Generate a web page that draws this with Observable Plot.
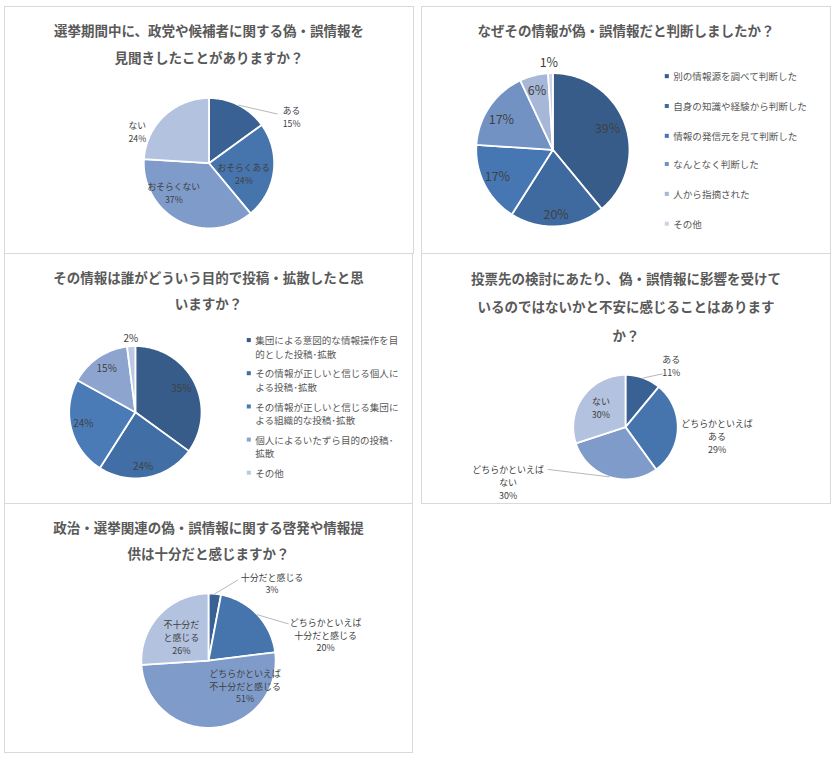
<!DOCTYPE html>
<html>
<head>
<meta charset="utf-8">
<script src="https://cdn.jsdelivr.net/npm/d3@7"></script>
<script src="https://cdn.jsdelivr.net/npm/@observablehq/plot@0.6"></script>
<style>
  html, body { margin: 0; padding: 0; background: #ffffff; }
  body { width: 837px; height: 758px; position: relative; overflow: hidden;
         font-family: "Noto Sans CJK JP", "Noto Sans", sans-serif; }
  .panel { position: absolute; box-sizing: border-box; border: 1px solid #d9d9d9; background: #fff; }
  .panel svg { position: absolute; left: -1px; top: -1px; }
  .title { position: absolute; left: -1px; right: -1px; text-align: center; white-space: nowrap;
           font-size: 13.5px; font-weight: bold; color: #595959; }
</style>
</head>
<body>
<script>
// ---------------- DATA ----------------
const q1Title = ["選挙期間中に、政党や候補者に関する偽・誤情報を", "見聞きしたことがありますか？"];
const q1Categories = ["ある", "おそらくある", "おそらくない", "ない"];
const q1Values = [15, 24, 37, 24];

const q2Title = ["なぜその情報が偽・誤情報だと判断しましたか？"];
const q2Categories = ["別の情報源を調べて判断した", "自身の知識や経験から判断した", "情報の発信元を見て判断した", "なんとなく判断した", "人から指摘された", "その他"];
const q2Values = [39, 20, 17, 17, 6, 1];

const q3Title = ["その情報は誰がどういう目的で投稿・拡散したと思", "いますか？"];
const q3Categories = ["集団による意図的な情報操作を目\n的とした投稿･拡散", "その情報が正しいと信じる個人に\nよる投稿･拡散", "その情報が正しいと信じる集団に\nよる組織的な投稿･拡散", "個人によるいたずら目的の投稿･\n拡散", "その他"];
const q3Values = [35, 24, 24, 15, 2];

const q4Title = ["投票先の検討にあたり、偽・誤情報に影響を受けて", "いるのではないかと不安に感じることはあります", "か？"];
const q4Categories = ["ある", "どちらかといえば\nある", "どちらかといえば\nない", "ない"];
const q4Values = [11, 29, 30, 30];

const q5Title = ["政治・選挙関連の偽・誤情報に関する啓発や情報提", "供は十分だと感じますか？"];
const q5Categories = ["十分だと感じる", "どちらかといえば\n十分だと感じる", "どちらかといえば\n不十分だと感じる", "不十分だ\nと感じる"];
const q5Values = [3, 20, 51, 26];

const colors4 = ["#3a6194", "#4674ad", "#7f9bc9", "#b3c2de"];
const colors5 = ["#375c8a", "#416ea4", "#4a7bb7", "#8da5ce", "#bcc9e3"];
const colors6 = ["#375c8a", "#3e6a9f", "#4677b2", "#7292c4", "#a6b7d7", "#c9d4e9"];

// ---------------- LAYOUT ----------------
const panels = [
  { title: q1Title, cats: q1Categories, vals: q1Values, colors: colors4,
    left: 4, top: 6, w: 410, h: 248, titleTop: 10.5, titleLH: 27,
    cx: 205.5, cy: 157.5, r: 65.5, labelMode: "catpct", fontSize: 8.8, lh: 13.3,
    labelPos: [[288.5, 110.7], [240.5, 167.3], [170.2, 186.7], [133.5, 125.7]],
    leaders: [[0, 274, 108]] },
  { title: q2Title, cats: q2Categories, vals: q2Values, colors: colors6,
    left: 421, top: 6, w: 410, h: 248, titleTop: 10.5, titleLH: 27,
    cx: 132, cy: 144, r: 77, labelMode: "pct", fontSize: 12.5, lh: 14,
    labelPos: [[187, 122.3], [135.3, 209], [76.3, 170.7], [80.3, 113.3], [116, 84.7], [128, 56.7]],
    leaders: [],
    legend: { sx: 246.5, tx: 253, rows: [70, 100, 130, 158.3, 188.3, 218.3], lh: 13.3 } },
  { title: q3Title, cats: q3Categories, vals: q3Values, colors: colors5,
    left: 4, top: 253, w: 409, h: 251, titleTop: 10.5, titleLH: 26.5,
    cx: 131.5, cy: 159.5, r: 66.5, labelMode: "pct", fontSize: 10, lh: 13,
    labelPos: [[177.7, 135.3], [139.3, 213], [79.3, 169.7], [102.7, 115.3], [127, 84.3]],
    leaders: [],
    legend: { sx: 245.5, tx: 252, rows: [87, 120.3, 153.7, 187, 220.3], lh: 13.3 } },
  { title: q4Title, cats: q4Categories, vals: q4Values, colors: colors4,
    left: 421, top: 253, w: 410, h: 251, titleTop: 10.75, titleLH: 28.5,
    cx: 205, cy: 174.5, r: 52.5, labelMode: "catpct", fontSize: 9, lh: 13,
    labelPos: [[251, 112], [297, 183.3], [87, 229.5], [180.3, 154.5]],
    leaders: [[0, 242, 121], [2, 127, 217]] },
  { title: q5Title, cats: q5Categories, vals: q5Values, colors: colors4,
    left: 4, top: 503, w: 409, h: 250, titleTop: 10.5, titleLH: 26.5,
    cx: 205, cy: 158, r: 67.5, labelMode: "catpct", fontSize: 9, lh: 12.7,
    labelPos: [[268.8, 80], [322.7, 131.8], [241.8, 183], [177.7, 134]],
    leaders: [[0, 234.3, 77], [1, 285.3, 121]] }
];

function slices(values, cx, cy, r) {
  const total = d3.sum(values);
  let acc = 0;
  return values.map((v, i) => {
    const a0 = acc / total * 2 * Math.PI;
    acc += v;
    const a1 = acc / total * 2 * Math.PI;
    const n = Math.max(2, Math.ceil((a1 - a0) / (Math.PI / 180)));
    const pts = [{ x: cx, y: cy }];
    for (let k = 0; k <= n; k++) {
      const a = a0 + (a1 - a0) * k / n;
      pts.push({ x: cx + r * Math.sin(a), y: cy - r * Math.cos(a) });
    }
    pts.push({ x: cx, y: cy });
    const mid = (a0 + a1) / 2;
    return { i, pts, mid, edge: { x: cx + r * Math.sin(mid), y: cy - r * Math.cos(mid) } };
  });
}

panels.forEach(p => {
  const div = document.createElement("div");
  div.className = "panel";
  Object.assign(div.style, { left: p.left + "px", top: p.top + "px", width: p.w + "px", height: p.h + "px" });

  const t = document.createElement("div");
  t.className = "title";
  t.style.top = (p.titleTop - 1) + "px";
  t.style.lineHeight = p.titleLH + "px";
  t.innerHTML = p.title.join("<br>");

  const sl = slices(p.vals, p.cx, p.cy, p.r);
  const marks = [];
  sl.forEach(s => {
    marks.push(Plot.line(s.pts, { x: "x", y: "y", fill: p.colors[s.i], stroke: "#ffffff", strokeWidth: 1.8, strokeLinejoin: "round", curve: "linear" }));
  });
  // leader lines
  p.leaders.forEach(([i, x, y]) => {
    marks.push(Plot.line([sl[i].edge, { x, y }], { x: "x", y: "y", stroke: "#a6a6a6", strokeWidth: 0.8 }));
  });
  // data labels
  const labelData = p.vals.map((v, i) => ({
    x: p.labelPos[i][0], y: p.labelPos[i][1],
    text: p.labelMode === "pct" ? v + "%" : p.cats[i] + "\n" + v + "%"
  }));
  marks.push(Plot.text(labelData, { x: "x", y: "y", text: "text", fill: "#404040", fontSize: p.fontSize, lineHeight: p.lh / p.fontSize, textAnchor: "middle" }));

  // legend
  if (p.legend) {
    const L = p.legend;
    const sq = p.cats.map((c, i) => ({ x: L.sx, y: L.rows[i], color: p.colors[i] }));
    marks.push(Plot.dot(sq, { x: "x", y: "y", symbol: "square", r: 2.3, fill: "color", stroke: null }));
    const items = p.cats.map((c, i) => {
      const n = c.split("\n").length;
      return { x: L.tx, y: L.rows[i] + (n - 1) * L.lh / 2, text: c };
    });
    marks.push(Plot.text(items, { x: "x", y: "y", text: "text", fill: "#595959", fontSize: 9.6, lineHeight: L.lh / 9.6, textAnchor: "start" }));
  }

  const svg = Plot.plot({
    width: p.w, height: p.h,
    marginTop: 0, marginRight: 0, marginBottom: 0, marginLeft: 0,
    x: { domain: [0, p.w], range: [0, p.w], axis: null },
    y: { domain: [0, p.h], range: [0, p.h], axis: null },
    color: { type: "identity" },
    style: { fontFamily: "'Noto Sans CJK JP', 'Noto Sans', sans-serif", background: "transparent", overflow: "visible" },
    marks
  });
  div.appendChild(svg);
  div.appendChild(t);
  document.body.appendChild(div);
});
</script>
</body>
</html>
